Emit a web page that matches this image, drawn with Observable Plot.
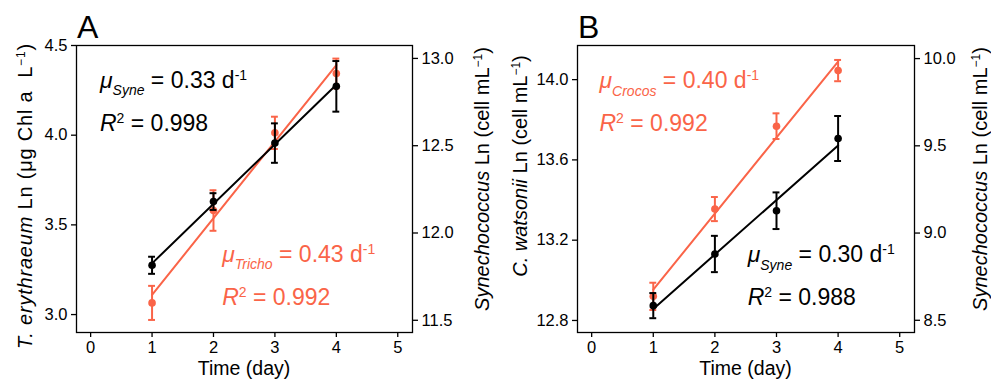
<!DOCTYPE html>
<html><head><meta charset="utf-8">
<script src="https://cdn.jsdelivr.net/npm/d3@7"></script>
<script src="https://cdn.jsdelivr.net/npm/@observablehq/plot@0.6"></script>
<style>
body{margin:0;background:#fff;}
#wrap{display:flex;width:991px;height:381px;overflow:hidden;}
svg text{font-family:"Liberation Sans",Arial,sans-serif;}
</style></head><body><div id="wrap"></div>
<script>
// ---------- data ----------
const days = [1, 2, 3, 4];
const xTicks = [0, 1, 2, 3, 4, 5];
const xDomain = [-0.23, 5.24];

// Panel A: T. erythraeum (left axis) and Synechococcus (right axis)
const aTrichoMean = [3.065, 3.58, 4.013, 4.344];
const aTrichoSE   = [0.095, 0.113, 0.09, 0.083];
const aSyneMean   = [11.815, 12.18, 12.515, 12.84];
const aSyneSE     = [0.049, 0.048, 0.113, 0.145];
const aLeftTicks  = [3.0, 3.5, 4.0, 4.5];
const aRightTicks = [11.5, 12.0, 12.5, 13.0];
const aLeftDomain = [2.9, 4.5];
const aRightDomain = [11.43, 13.074];

// Panel B: C. watsonii (left axis) and Synechococcus (right axis)
const bCrocosMean = [12.92, 13.355, 13.768, 14.045];
const bCrocosSE   = [0.068, 0.06, 0.064, 0.053];
const bSyneMean   = [8.584, 8.88, 9.128, 9.542];
const bSyneSE     = [0.072, 0.104, 0.105, 0.129];
const bLeftTicks  = [12.8, 13.2, 13.6, 14.0];
const bRightTicks = [8.5, 9.0, 9.5, 10.0];
const bLeftDomain = [12.74, 14.17];
const bRightDomain = [8.43, 10.075];

const RED = "#FA6448";
const BLACK = "#000000";

// annotation texts (positions in left-axis data units)
const aNotes = [
  {x: 0.16, y: 4.26, color: BLACK, parts: [{t:"μ", i:1}, {t:"Syne", i:1, sub:1}, {t:" = 0.33 d"}, {t:"-1", sup:1}]},
  {x: 0.16, y: 4.02, color: BLACK, parts: [{t:"R", i:1}, {t:"2", sup:1}, {t:" = 0.998"}]},
  {x: 2.15, y: 3.291, color: RED, parts: [{t:"μ", i:1}, {t:"Tricho", i:1, sub:1}, {t:" = 0.43 d"}, {t:"-1", sup:1}]},
  {x: 2.15, y: 3.05, color: RED, parts: [{t:"R", i:1}, {t:"2", sup:1}, {t:" = 0.992"}]}
];
const bNotes = [
  {x: 0.135, y: 13.955, color: RED, parts: [{t:"μ", i:1}, {t:"Crocos", i:1, sub:1}, {t:" = 0.40 d"}, {t:"-1", sup:1}]},
  {x: 0.135, y: 13.741, color: RED, parts: [{t:"R", i:1}, {t:"2", sup:1}, {t:" = 0.992"}]},
  {x: 2.54, y: 13.088, color: BLACK, parts: [{t:"μ", i:1}, {t:"Syne", i:1, sub:1}, {t:" = 0.30 d"}, {t:"-1", sup:1}]},
  {x: 2.54, y: 12.873, color: BLACK, parts: [{t:"R", i:1}, {t:"2", sup:1}, {t:" = 0.988"}]}
];

const aLeftTitle  = [{t:"T. erythraeum", i:1}, {t:" Ln (μg Chl a  L"}, {t:"−1", sup:1}, {t:")"}];
const aRightTitle = [{t:"Synechococcus", i:1}, {t:" Ln (cell mL"}, {t:"−1", sup:1}, {t:")"}];
const bLeftTitle  = [{t:"C. watsonii", i:1}, {t:" Ln (cell mL"}, {t:"−1", sup:1}, {t:")"}];
const bRightTitle = [{t:"Synechococcus", i:1}, {t:" Ln (cell mL"}, {t:"−1", sup:1}, {t:")"}];

// ---------- drawing ----------
function rich(text, parts, base) {
  let cur = 0;
  for (const p of parts) {
    const shift = p.sub ? 0.32 * base : p.sup ? -0.36 * base : 0;
    const ts = text.append("tspan").text(p.t).attr("dy", shift - cur);
    cur = shift;
    if (p.i) ts.attr("font-style", "italic");
    if (p.sub || p.sup) ts.attr("font-size", Math.round(base * 0.62));
  }
}

function vtitle(s, x, y, parts, size, spacing) {
  const t = s.append("text").attr("transform", `translate(${x},${y}) rotate(-90)`)
    .attr("text-anchor", "middle").attr("font-size", size).attr("fill", "#000")
    .style("white-space", "pre").style("letter-spacing", `${spacing}px`);
  rich(t, parts, size);
}

function panel(cfg) {
  const {width, marginLeft, marginRight, leftDomain, rightDomain, leftTicks, rightTicks,
         redMean, redSE, blackMean, blackSE} = cfg;
  const marginTop = 45, marginBottom = 49, height = 381;
  const k = (leftDomain[1] - leftDomain[0]) / (rightDomain[1] - rightDomain[0]);
  const toLeft = v => leftDomain[0] + (v - rightDomain[0]) * k;
  const toRight = v => rightDomain[0] + (v - leftDomain[0]) / k;
  const fmt = d3.format(".1f");
  const red = days.map((d, i) => ({x: d, y: redMean[i], lo: redMean[i] - redSE[i], hi: redMean[i] + redSE[i]}));
  const black = days.map((d, i) => ({x: d, y: toLeft(blackMean[i]), lo: toLeft(blackMean[i] - blackSE[i]), hi: toLeft(blackMean[i] + blackSE[i])}));
  const cap = 0.056;
  const series = (data, color) => [
    Plot.linearRegressionY(data, {x: "x", y: "y", stroke: color, strokeWidth: 2, ci: 0}),
    Plot.ruleX(data, {x: "x", y1: "lo", y2: "hi", stroke: color, strokeWidth: 2}),
    Plot.ruleY(data, {y: "lo", x1: d => d.x - cap, x2: d => d.x + cap, stroke: color, strokeWidth: 2}),
    Plot.ruleY(data, {y: "hi", x1: d => d.x - cap, x2: d => d.x + cap, stroke: color, strokeWidth: 2}),
    Plot.dot(data, {x: "x", y: "y", r: 3.8, fill: color, stroke: null})
  ];
  const svg = Plot.plot({
    width, height, marginLeft, marginRight, marginTop, marginBottom,
    style: {fontFamily: "Liberation Sans, Arial, sans-serif", fontSize: "16.5px", color: "#000", background: "#fff"},
    x: {domain: xDomain},
    y: {domain: leftDomain},
    marks: [
      ...series(red, RED),
      ...series(black, BLACK),
      Plot.frame({stroke: "#000", strokeWidth: 1.3}),
      Plot.axisX(xTicks, {tickSize: 5, tickPadding: 4, strokeWidth: 1.3, label: null, tickFormat: d3.format("d")}),
      Plot.axisY(leftTicks, {anchor: "left", tickSize: 5, tickPadding: 4, strokeWidth: 1.3, label: null, tickFormat: fmt}),
      Plot.axisY(rightTicks.map(toLeft), {anchor: "right", tickSize: 5, tickPadding: 4, strokeWidth: 1.3, label: null,
        tickFormat: d => fmt(toRight(d))})
    ]
  });
  const sx = svg.scale("x"), sy = svg.scale("y");
  const s = d3.select(svg);
  const x0 = marginLeft, x1 = width - marginRight;
  // panel letter
  s.append("text").attr("x", x0 + 1).attr("y", 38).attr("text-anchor", "start")
    .attr("font-size", 32).attr("fill", "#000").text(cfg.letter);
  // x title
  s.append("text").attr("x", (x0 + x1) / 2).attr("y", 375).attr("text-anchor", "middle")
    .attr("font-size", 19.5).attr("fill", "#000").text("Time (day)");
  // left / right titles
  vtitle(s, cfg.leftTitleX, cfg.leftTitleY, cfg.leftTitle, cfg.leftTitleSize, cfg.leftTitleSpacing);
  vtitle(s, cfg.rightTitleX, cfg.rightTitleY, cfg.rightTitle, 20, 0);
  // annotations
  for (const n of cfg.notes) {
    const t = s.append("text").attr("x", sx.apply(n.x)).attr("y", sy.apply(n.y)).attr("text-anchor", "start")
      .attr("font-size", 23).attr("fill", n.color).style("white-space", "pre");
    rich(t, n.parts, 23);
  }
  return svg;
}

const wrap = document.getElementById("wrap");
wrap.append(panel({
  width: 495, marginLeft: 76, marginRight: 83,
  leftDomain: aLeftDomain, rightDomain: aRightDomain, leftTicks: aLeftTicks, rightTicks: aRightTicks,
  redMean: aTrichoMean, redSE: aTrichoSE, blackMean: aSyneMean, blackSE: aSyneSE,
  letter: "A", leftTitle: aLeftTitle, rightTitle: aRightTitle,
  leftTitleX: 32, leftTitleY: 196, leftTitleSize: 20, leftTitleSpacing: 0.8,
  rightTitleX: 489, rightTitleY: 179, notes: aNotes
}));
wrap.append(panel({
  width: 496, marginLeft: 82, marginRight: 77,
  leftDomain: bLeftDomain, rightDomain: bRightDomain, leftTicks: bLeftTicks, rightTicks: bRightTicks,
  redMean: bCrocosMean, redSE: bCrocosSE, blackMean: bSyneMean, blackSE: bSyneSE,
  letter: "B", leftTitle: bLeftTitle, rightTitle: bRightTitle,
  leftTitleX: 32, leftTitleY: 166, leftTitleSize: 20, leftTitleSpacing: 0,
  rightTitleX: 492, rightTitleY: 179, notes: bNotes
}));
</script></body></html>
